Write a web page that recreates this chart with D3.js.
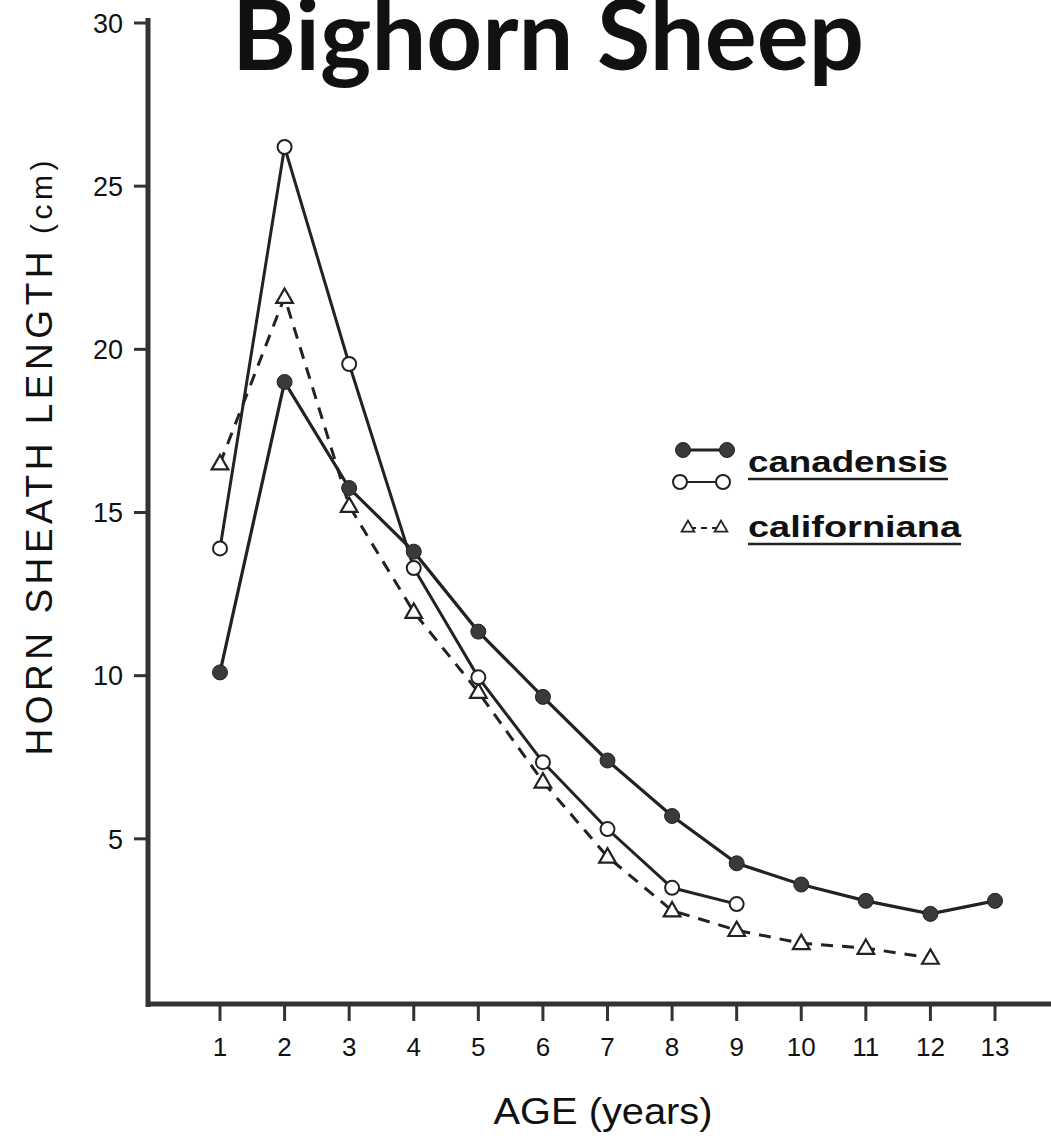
<!DOCTYPE html>
<html>
<head>
<meta charset="utf-8">
<script src="https://cdn.jsdelivr.net/npm/d3@7"></script>
<style>
  body { margin: 0; background: #fff; }
  svg text { fill: #111; }
</style>
</head>
<body>
<script>
// values
var ages = [1, 2, 3, 4, 5, 6, 7, 8, 9, 10, 11, 12, 13];
var filledVals = [10.1, 19.0, 15.75, 13.8, 11.35, 9.35, 7.4, 5.7, 4.25, 3.6, 3.1, 2.7, 3.1];
var openVals = [13.9, 26.2, 19.55, 13.3, 9.95, 7.35, 5.3, 3.5, 3.0];
var trianglesVals = [16.5, 21.6, 15.2, 11.95, 9.5, 6.75, 4.45, 2.8, 2.2, 1.8, 1.65, 1.35];
var yTicks = [5, 10, 15, 20, 25, 30];

var W = 1051, H = 1138;
var ink = "#222";
var sans = "'Liberation Sans', Arial, sans-serif";

var svg = d3.select("body").append("svg")
  .attr("width", W)
  .attr("height", H);

var x = d3.scaleLinear().domain([1, 13]).range([220, 995]);
var y = d3.scaleLinear().domain([0, 30]).range([1002, 23]);

// title
var title = svg.append("text")
  .attr("x", 548)
  .attr("y", 70)
  .attr("text-anchor", "middle")
  .style("font-family", "Lato, 'Open Sans', sans-serif")
  .style("font-weight", "bold")
  .style("font-size", "80px")
  .text("Bighorn Sheep");
var tw = title.node().getComputedTextLength();
title.style("font-size", (80 * 632 / tw) + "px");

// axes
var axisG = svg.append("g");
axisG.append("line")
  .attr("x1", 148).attr("x2", 148)
  .attr("y1", 18).attr("y2", 1007)
  .attr("stroke", "#333").attr("stroke-width", 5);
axisG.append("line")
  .attr("x1", 146).attr("x2", W)
  .attr("y1", 1004).attr("y2", 1004)
  .attr("stroke", "#333").attr("stroke-width", 5);

axisG.selectAll(".yt").data(yTicks).enter().append("line")
  .attr("x1", 134).attr("x2", 148)
  .attr("y1", function(d) { return y(d); })
  .attr("y2", function(d) { return y(d); })
  .attr("stroke", "#333").attr("stroke-width", 3);
axisG.selectAll(".ytl").data(yTicks).enter().append("text")
  .attr("x", 123)
  .attr("y", function(d) { return y(d); })
  .attr("dy", "0.36em")
  .attr("text-anchor", "end")
  .style("font-family", sans)
  .style("font-size", "27px")
  .text(function(d) { return d; });

axisG.selectAll(".xt").data(ages).enter().append("line")
  .attr("x1", function(d) { return x(d); })
  .attr("x2", function(d) { return x(d); })
  .attr("y1", 1004).attr("y2", 1021)
  .attr("stroke", "#333").attr("stroke-width", 3);
axisG.selectAll(".xtl").data(ages).enter().append("text")
  .attr("x", function(d) { return x(d); })
  .attr("y", 1056)
  .attr("text-anchor", "middle")
  .style("font-family", sans)
  .style("font-size", "26px")
  .text(function(d) { return d; });

// axis titles
var ylab = svg.append("text")
  .attr("transform", "translate(52,458) rotate(-90)")
  .attr("text-anchor", "middle")
  .attr("textLength", 595)
  .attr("lengthAdjust", "spacing")
  .style("font-family", sans)
  .style("font-size", "37px");
ylab.append("tspan").text("HORN SHEATH LENGTH");
ylab.append("tspan").style("font-size", "30px").text(" (cm)");

svg.append("text")
  .attr("x", 603)
  .attr("y", 1124)
  .attr("text-anchor", "middle")
  .attr("textLength", 219)
  .attr("lengthAdjust", "spacingAndGlyphs")
  .style("font-family", sans)
  .style("font-size", "36px")
  .text("AGE (years)");

// series
function pts(vals) {
  return vals.map(function(v, i) { return [ages[i], v]; });
}
var line = d3.line()
  .x(function(d) { return x(d[0]); })
  .y(function(d) { return y(d[1]); });

svg.append("path").datum(pts(trianglesVals))
  .attr("d", line).attr("fill", "none")
  .attr("stroke", ink).attr("stroke-width", 3)
  .attr("stroke-dasharray", "12,9");
svg.append("path").datum(pts(openVals))
  .attr("d", line).attr("fill", "none")
  .attr("stroke", ink).attr("stroke-width", 3);
svg.append("path").datum(pts(filledVals))
  .attr("d", line).attr("fill", "none")
  .attr("stroke", ink).attr("stroke-width", 3.2);

var tri = d3.symbol().type(d3.symbolTriangle).size(120);

svg.selectAll(".tri").data(pts(trianglesVals)).enter().append("path")
  .attr("d", tri)
  .attr("transform", function(d) { return "translate(" + x(d[0]) + "," + (y(d[1]) + 1) + ")"; })
  .attr("fill", "#fff").attr("stroke", ink).attr("stroke-width", 2.2);
svg.selectAll(".oc").data(pts(openVals)).enter().append("circle")
  .attr("cx", function(d) { return x(d[0]); })
  .attr("cy", function(d) { return y(d[1]); })
  .attr("r", 7)
  .attr("fill", "#fff").attr("stroke", ink).attr("stroke-width", 2);
svg.selectAll(".fc").data(pts(filledVals)).enter().append("circle")
  .attr("cx", function(d) { return x(d[0]); })
  .attr("cy", function(d) { return y(d[1]); })
  .attr("r", 7.5)
  .attr("fill", "#3a3a3a").attr("stroke", "#222").attr("stroke-width", 1);

// legend
var lg = svg.append("g");
lg.append("line").attr("x1", 683).attr("x2", 727).attr("y1", 450).attr("y2", 450)
  .attr("stroke", ink).attr("stroke-width", 3.2);
lg.selectAll(".lf").data([683, 727]).enter().append("circle")
  .attr("cx", function(d) { return d; }).attr("cy", 450).attr("r", 7.5)
  .attr("fill", "#3a3a3a").attr("stroke", "#222");
lg.append("line").attr("x1", 680).attr("x2", 723).attr("y1", 482).attr("y2", 482)
  .attr("stroke", ink).attr("stroke-width", 2);
lg.selectAll(".lo").data([680, 723]).enter().append("circle")
  .attr("cx", function(d) { return d; }).attr("cy", 482).attr("r", 7)
  .attr("fill", "#fff").attr("stroke", ink).attr("stroke-width", 2);
lg.append("line").attr("x1", 690).attr("x2", 721).attr("y1", 528).attr("y2", 528)
  .attr("stroke", ink).attr("stroke-width", 2).attr("stroke-dasharray", "6,5");
lg.selectAll(".lt").data([688, 721]).enter().append("path")
  .attr("d", d3.symbol().type(d3.symbolTriangle).size(70))
  .attr("transform", function(d) { return "translate(" + d + ",528)"; })
  .attr("fill", "#fff").attr("stroke", ink).attr("stroke-width", 1.8);

var names = [["canadensis", 472, 200], ["californiana", 537, 213]];
names.forEach(function(n) {
  lg.append("text")
    .attr("x", 748).attr("y", n[1])
    .attr("textLength", n[2]).attr("lengthAdjust", "spacingAndGlyphs")
    .style("font-family", sans)
    .style("font-weight", "bold")
    .style("font-size", "30px")
    .text(n[0]);
  lg.append("line")
    .attr("x1", 748).attr("x2", 748 + n[2])
    .attr("y1", n[1] + 7).attr("y2", n[1] + 7)
    .attr("stroke", ink).attr("stroke-width", 2.5);
});
</script>
</body>
</html>
